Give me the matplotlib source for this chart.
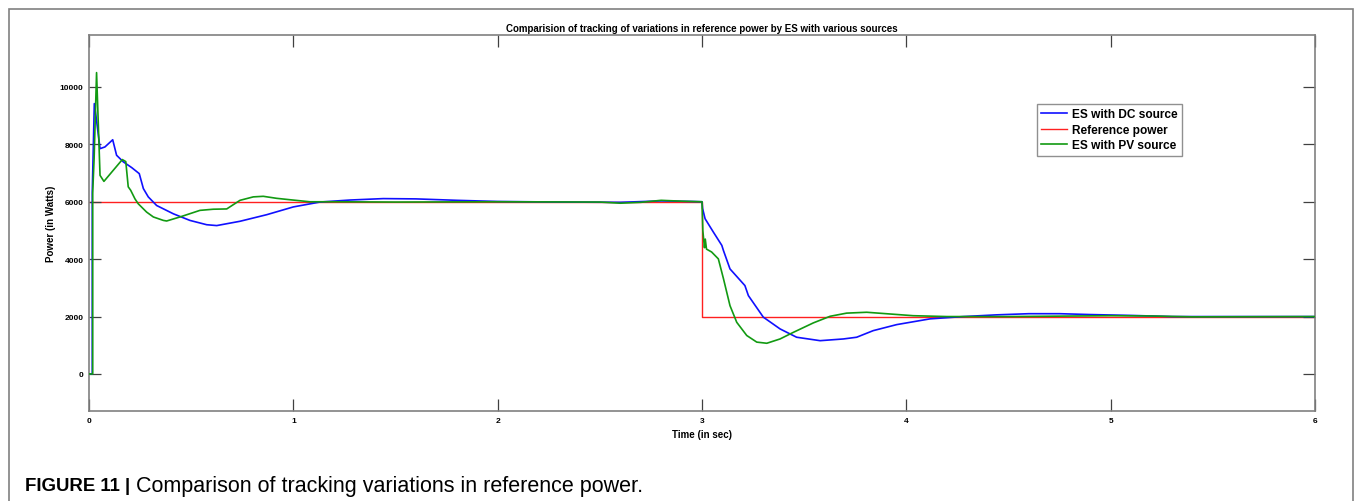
import matplotlib
matplotlib.use("Agg")
from matplotlib import pyplot as plt
from matplotlib.patches import Rectangle

plt.rcParams['font.family'] = ['Liberation Sans', 'DejaVu Sans']

# reference power (step from 6000 W down to 2000 W at t = 3 s)
ref_t = [0.0, 3.0, 3.0, 6.0]
ref_p = [6000, 6000, 2000, 2000]

# energy storage fed by a DC source
dc_t = [0.0, 0.016, 0.016, 0.026, 0.034, 0.054, 0.078, 0.116, 0.135, 0.168, 0.209,
        0.246, 0.266, 0.29, 0.331, 0.413, 0.494, 0.576, 0.625, 0.739, 0.87, 1.0,
        1.13, 1.277, 1.44, 1.6, 1.8, 2.0, 2.3, 2.6, 2.8, 2.95, 3.0,
        3.003, 3.015, 3.055, 3.097, 3.105, 3.137, 3.21, 3.227, 3.3, 3.382, 3.463,
        3.578, 3.692, 3.757, 3.838, 3.953, 4.116, 4.279, 4.442, 4.6, 4.75, 4.9,
        5.1, 5.3, 6.0]
dc_p = [0, 0, 6340, 9420, 9000, 7850, 7910, 8160, 7620, 7390, 7190,
        6980, 6460, 6170, 5870, 5580, 5350, 5200, 5170, 5320, 5550, 5820,
        5990, 6060, 6110, 6100, 6050, 6010, 5990, 5980, 6030, 6010, 6000,
        5760, 5410, 4950, 4480, 4300, 3660, 3080, 2730, 1980, 1570, 1280,
        1160, 1220, 1280, 1510, 1720, 1920, 2000, 2060, 2100, 2100, 2070,
        2040, 2000, 2000]

# energy storage fed by a PV source
pv_t = [0.0, 0.018, 0.018, 0.025, 0.037, 0.054, 0.073, 0.163, 0.18, 0.192, 0.204,
        0.225, 0.241, 0.282, 0.315, 0.364, 0.38, 0.445, 0.543, 0.608, 0.674,
        0.739, 0.804, 0.853, 0.918, 0.984, 1.08, 1.2, 1.5, 2.0, 2.5, 2.6, 2.7,
        2.8, 2.9, 3.0,
        3.004, 3.012, 3.016, 3.022, 3.047, 3.08, 3.105, 3.137, 3.17, 3.219, 3.268,
        3.317, 3.382, 3.447, 3.545, 3.627, 3.708, 3.806, 3.92, 4.034, 4.2, 4.5,
        5.0, 5.2, 5.4, 6.0]
pv_p = [0, 0, 6300, 7500, 10500, 6920, 6710, 7470, 7400, 6520, 6400,
        6100, 5930, 5640, 5470, 5350, 5330, 5470, 5700, 5740, 5750,
        6050, 6170, 6190, 6120, 6070, 6000, 6000, 5990, 6000, 5990, 5950, 5980,
        6050, 6020, 6000,
        5000, 4400, 4700, 4350, 4250, 4010, 3320, 2380, 1800, 1340, 1110,
        1070, 1220, 1450, 1780, 2010, 2120, 2150, 2090, 2030, 2000, 2000,
        2030, 2020, 1990, 2000]

x_ticks = [0, 1, 2, 3, 4, 5, 6]
y_ticks = [0, 2000, 4000, 6000, 8000, 10000]

W, H = 1355, 502
fig = plt.figure(figsize=(W / 100, H / 100), dpi=100)

# thin grey frame round the whole figure
fig.add_artist(Rectangle((9 / W, -0.05), (1353 - 9) / W, 1.05 - 10 / H,
                         transform=fig.transFigure, fill=False,
                         edgecolor='#808080', linewidth=1.2))

ax_l, ax_r, ax_t, ax_b = 89, 1315, 36, 412
ax = fig.add_axes([ax_l / W, 1 - ax_b / H, (ax_r - ax_l) / W, (ax_b - ax_t) / H])

ax.plot(ref_t, ref_p, color='#ff2020', linewidth=1.0, label='Reference power', zorder=1)
ax.plot(dc_t, dc_p, color='#1010ff', linewidth=1.2, label='ES with DC source', zorder=2)
ax.plot(pv_t, pv_p, color='#129a12', linewidth=1.2, label='ES with PV source', zorder=3)

ax.set_xlim(0, 6)
ax.set_ylim(-1290, 11810)
ax.set_xticks(x_ticks)
ax.set_yticks(y_ticks)
ax.tick_params(direction='in', length=8.6, width=0.9, color='#404040',
               top=True, right=True, labelsize=6, pad=4)
for lbl in ax.get_xticklabels() + ax.get_yticklabels():
    lbl.set_fontweight('bold')
for s in ax.spines.values():
    s.set_color('#808080')
    s.set_linewidth(1.2)

ax.set_title('Comparision of tracking of variations in reference power by ES with various sources',
             fontsize=7, fontweight='bold', pad=3)
ax.set_xlabel('Time (in sec)', fontsize=7, fontweight='bold')
ax.set_ylabel('Power (in Watts)', fontsize=7, fontweight='bold')
ax.xaxis.set_label_coords(0.5, -(430 - ax_b) / (ax_b - ax_t))
ax.yaxis.set_label_coords(-(ax_l - 56) / (ax_r - ax_l), 0.5)

# legend in the order of the original figure
h, l = ax.get_legend_handles_labels()
order = [1, 0, 2]
leg = ax.legend([h[i] for i in order], [l[i] for i in order],
                loc='upper left', bbox_to_anchor=((1037 - ax_l) / (ax_r - ax_l), (ax_b - 105) / (ax_b - ax_t)),
                prop={'weight': 'bold', 'size': 8.6}, fancybox=False, framealpha=1,
                edgecolor='#909090', handlelength=2.2, handletextpad=0.4,
                borderpad=0.35, labelspacing=0.3, borderaxespad=0)
leg.get_frame().set_linewidth(1.0)

# caption below the chart
fig.canvas.draw()
cap1 = fig.text(25 / W, 1 - 487 / H, 'FIGURE 11 |', fontsize=13.4, fontweight='bold', va='center')
fig.canvas.draw()
bb = cap1.get_window_extent()
fig.text(bb.x1 / W, 1 - 487 / H, ' Comparison of tracking variations in reference power.',
         fontsize=15.5, va='center')

fig.savefig('out.png', dpi=100)
